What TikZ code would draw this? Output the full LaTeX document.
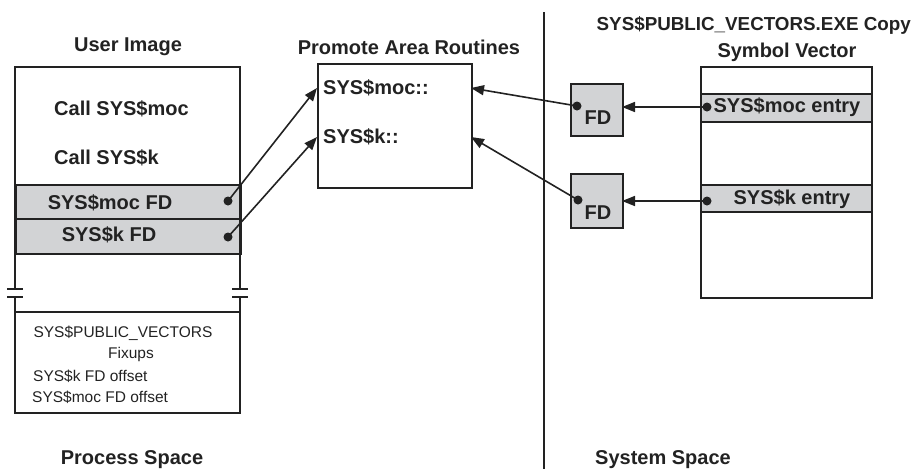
\documentclass[tikz,border=0pt]{standalone}
\usepackage{fontspec}
\setmainfont{Liberation Sans}
\usetikzlibrary{arrows.meta}
\definecolor{ink}{HTML}{222222}
\definecolor{band}{HTML}{D2D3D5}
\tikzset{
  ln/.style={draw=ink, line width=1.8pt},
  boxs/.style={ln, rectangle, inner sep=0pt, anchor=north west},
  bandbox/.style={ln, fill=band, rectangle, inner sep=0pt, anchor=north west},
  big/.style={font=\fontsize{20}{23}\selectfont\bfseries, text=ink, inner sep=0pt},
  small/.style={font=\fontsize{15.5}{18}\selectfont, text=ink, inner sep=0pt},
  dotc/.style={circle, fill=ink, inner sep=0pt, minimum size=9pt},
  arr/.style={ln, line width=1.6pt, -{Triangle[length=13pt,width=10pt]}},
}
\begin{document}
\begin{tikzpicture}[x=1pt,y=-1pt]
\useasboundingbox (0,0) rectangle (916,469);
% divider
\coordinate (divtop) at (544,12);
\coordinate (divbot) at (544,469);
\draw[ln] (divtop) -- (divbot);

% ---------- User Image ----------
\node[big] (uititle) at (128,47) {User Image};
\node[bandbox, minimum width=225pt, minimum height=34pt] (b1) at (15,184) {};
\node[bandbox, minimum width=225pt, minimum height=35pt] (b2) at (15,218) {};
\draw[ln] (15,289) -- (15,67) -- (240,67) -- (240,289);
\draw[ln] (7,289) -- (23,289) (7,297) -- (23,297);
\draw[ln] (232,289) -- (248,289) (232,297) -- (248,297);
\draw[ln] (15,297) -- (15,413) -- (240,413) -- (240,297);
\draw[ln] (15,312) -- (240,312);
\node[big, anchor=west] (c1) at (54,109) {Call SYS\$moc};
\node[big, anchor=west] (c2) at (54,158) {Call SYS\$k};
\node[big] (fd1t) at (110,203) {SYS\$moc FD};
\node[big] (fd2t) at (109,235) {SYS\$k FD};
\node[small] (pv) at (123,333) {SYS\$PUBLIC\_VECTORS};
\node[small] (fx) at (131,354) {Fixups};
\node[small, anchor=west] (ko) at (33,376) {SYS\$k FD offset};
\node[small, anchor=west] (mo) at (32,397) {SYS\$moc FD offset};
\node[dotc] (d1) at (228,201) {};
\node[dotc] (d2) at (228,237) {};

% ---------- Promote Area Routines ----------
\node[big] (patitle) at (409,47) {Promote Area Routines};
\node[boxs, minimum width=154pt, minimum height=124pt] (pa) at (317,63) {};
\node[big, anchor=west] (pm) at (323,88) {SYS\$moc::};
\node[big, anchor=west] (pk) at (323,137) {SYS\$k::};
\coordinate (paLm) at (317,88);
\coordinate (paLk) at (317,137);
\coordinate (paRm) at (471,88);
\coordinate (paRk) at (471,137);

% ---------- System space ----------
\node[big, font=\fontsize{18.8}{22}\selectfont\bfseries, anchor=east] (svt1) at (911,25) {SYS\$PUBLIC\_VECTORS.EXE Copy};
\node[big] (svt2) at (787,52) {Symbol Vector};
\node[boxs, minimum width=171pt, minimum height=231pt] (sv) at (700,66) {};
\node[bandbox, minimum width=171pt, minimum height=28pt] (sb1) at (700,93) {};
\node[bandbox, minimum width=171pt, minimum height=27pt] (sb2) at (700,184) {};
\node[big] (me) at (787,107) {SYS\$moc entry};
\node[big] (ke) at (792,199) {SYS\$k entry};
\node[dotc] (sd1) at (707,107) {};
\node[dotc] (sd2) at (707,201) {};

\node[bandbox, minimum width=52pt, minimum height=52pt] (fdA) at (570,83) {};
\node[bandbox, minimum width=52pt, minimum height=54pt] (fdB) at (570,173) {};
\node[big] (fdAt) at (598,118) {FD};
\node[big] (fdBt) at (598,213) {FD};
\node[dotc] (fd1d) at (577,106) {};
\node[dotc] (fd2d) at (578,200) {};
\coordinate (fdAR) at (622,107);
\coordinate (fdBR) at (622,201);

% ---------- connectors ----------
\draw[arr] (d1.center) -- (paLm);
\draw[arr] (d2.center) -- (paLk);
\draw[arr] (fd1d.center) -- (paRm);
\draw[arr] (fd2d.center) -- (paRk);
\draw[arr] (sd1.center) -- (fdAR);
\draw[arr] (sd2.center) -- (fdBR);

% bottom labels
\node[big] (ps) at (132,460) {Process Space};
\node[big] (ss) at (663,460) {System Space};
\end{tikzpicture}
\end{document}
